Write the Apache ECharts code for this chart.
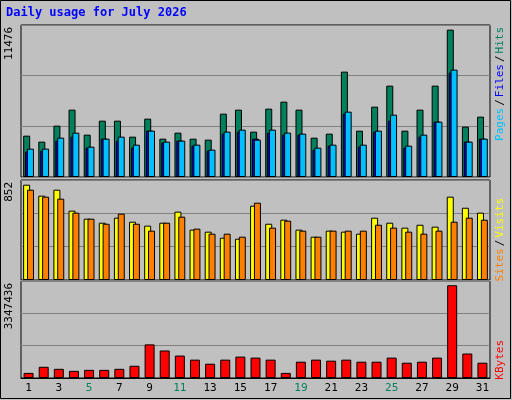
<!DOCTYPE html>
<html><head><meta charset="utf-8">
<script src="https://cdn.jsdelivr.net/npm/echarts@6/dist/echarts.min.js"></script>
<style>html,body{margin:0;padding:0;background:#c0c0c0}#c{width:512px;height:400px}</style>
</head><body><div id="c"></div>
<script>
const days = Array.from({length:31},(_,i)=>String(i+1));
const weekends = ['4','5','11','12','18','19','25','26'];
const hits = [3219,2752,3998,5244,3297,4387,4387,3141,4543,2985,3453,2985,2908,4932,5244,3531,5322,5867,5244,3063,3375,8203,3608,5478,7113,3608,5244,7113,11476,3920,4699];
const files = [1973,2051,2830,3141,2285,2985,2830,2285,3608,2674,2830,2440,2051,3375,3531,2985,3453,3297,3297,2129,2440,4932,2362,3531,4387,2285,3141,4309,8125,2752,2985];
const pages = [2207,2207,3063,3453,2362,2985,3141,2518,3608,2752,2830,2518,2129,3531,3686,2908,3686,3453,3375,2285,2518,5088,2518,3608,4854,2440,3297,4309,8359,2752,2985];
const sites = [852,754,807,620,548,512,557,521,486,512,611,450,432,378,369,664,503,539,450,387,441,432,414,557,512,468,494,477,745,646,602];
const visits = [807,745,727,602,548,503,593,503,441,512,566,459,414,414,387,691,468,530,441,387,441,441,441,494,468,432,414,441,521,557,539];
const kbytes = [183930,404650,331070,257500,294290,294290,331070,441430,1213940,993220,809290,662150,515000,662150,772500,735720,662150,183930,588580,662150,625360,662150,588580,588580,735720,551790,588580,735720,3347436,882860,551790];
const maxLabels = ['11476','852','3347436'];

const F = 'DejaVu Sans Mono';
const L = 21, R = 22;
const grids = [
  {left:L,right:R,top:25,height:152},
  {left:L,right:R,top:180,height:100},
  {left:L,right:R,top:281,height:97}
];
const ymax = [[11835,3945],[894,298],[3501000,1167000]];
const chart = echarts.init(document.getElementById('c'));
const xAx = (i)=>({type:'category',gridIndex:i,data:days,
  axisLine:{show:i===2,lineStyle:{color:'#000'}},axisTick:{show:false},
  axisLabel:{show:i===2,fontFamily:F,fontSize:11,margin:5,
    color:(v)=>weekends.includes(v)?'#00805c':'#000'}});
const yAx = (i)=>({type:'value',gridIndex:i,min:0,max:ymax[i][0],interval:ymax[i][1],
  axisLabel:{show:false},axisLine:{show:false},axisTick:{show:false},
  splitLine:{show:true,lineStyle:{color:'#808080',width:1}}});
const bar = (name,data,color,gi,w,gap)=>({name,type:'bar',xAxisIndex:gi,yAxisIndex:gi,data,
  barWidth:w,barGap:gap,itemStyle:{color,borderColor:'#000',borderWidth:1},animation:false});
chart.setOption({
  backgroundColor:'#c0c0c0',
  animation:false,
  grid:grids.map(g=>Object.assign({show:true,backgroundColor:'#c0c0c0',borderColor:'#000',borderWidth:1},g)),
  xAxis:[xAx(0),xAx(1),xAx(2)],
  yAxis:[yAx(0),yAx(1),yAx(2)],
  series:[
    bar('Hits',hits,'#00805c',0,7,'-73%'),
    bar('Files',files,'#0000ff',0,7,'-73%'),
    bar('Pages',pages,'#00c0ff',0,7,'-73%'),
    bar('Sites',sites,'#ffff00',1,7,'-45%'),
    bar('Visits',visits,'#ff8000',1,7,'-45%'),
    bar('KBytes',kbytes,'#ff0000',2,10,'0%')
  ],
  graphic:[
    {type:'rect',shape:{x:0.5,y:0.5,width:510,height:398},style:{fill:'none',stroke:'#000',lineWidth:1},silent:true},
    {type:'text',left:6,top:7,style:{text:'Daily usage for July 2026',font:'bold 12px "DejaVu Sans Mono"',fill:'#0000ff'}},
    {type:'text',x:9,y:27,rotation:Math.PI/2,style:{text:maxLabels[0],font:'11px "DejaVu Sans Mono"',fill:'#000',align:'right',verticalAlign:'middle'}},
    {type:'text',x:9,y:182,rotation:Math.PI/2,style:{text:maxLabels[1],font:'11px "DejaVu Sans Mono"',fill:'#000',align:'right',verticalAlign:'middle'}},
    {type:'text',x:9,y:283,rotation:Math.PI/2,style:{text:maxLabels[2],font:'11px "DejaVu Sans Mono"',fill:'#000',align:'right',verticalAlign:'middle'}},
    {type:'text',x:500,y:27,rotation:Math.PI/2,style:{text:'{p|Pages}{s|/}{f|Files}{s|/}{h|Hits}',align:'right',verticalAlign:'middle',
      rich:{p:{fill:'#00c0ff',font:'11px "DejaVu Sans Mono"'},s:{fill:'#000',font:'11px "DejaVu Sans Mono"',padding:[0,2]},f:{fill:'#0000ff',font:'11px "DejaVu Sans Mono"'},h:{fill:'#00805c',font:'11px "DejaVu Sans Mono"'}}}},
    {type:'text',x:500,y:198,rotation:Math.PI/2,style:{text:'{a|Sites}{s|/}{b|Visits}',align:'right',verticalAlign:'middle',
      rich:{a:{fill:'#ff8000',font:'11px "DejaVu Sans Mono"'},s:{fill:'#000',font:'11px "DejaVu Sans Mono"',padding:[0,2]},b:{fill:'#ffff00',font:'11px "DejaVu Sans Mono"'}}}},
    {type:'text',x:500,y:340,rotation:Math.PI/2,style:{text:'KBytes',font:'11px "DejaVu Sans Mono"',fill:'#ff0000',align:'right',verticalAlign:'middle'}}
  ]
});
</script></body></html>
